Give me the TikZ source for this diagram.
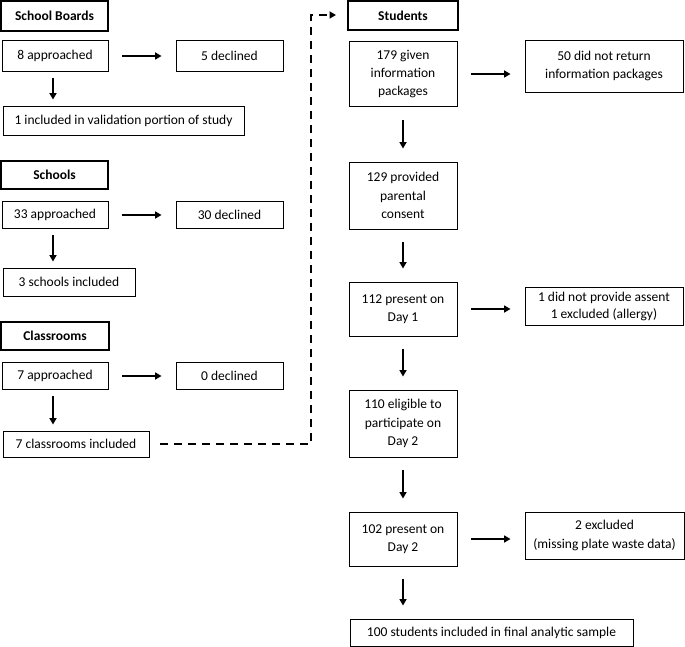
\documentclass[tikz,border=0pt]{standalone}
\usepackage{fontspec}
\setmainfont{Carlito}
\usetikzlibrary{calc}
\usetikzlibrary{arrows.meta}
\tikzset{
	box/.style={draw, line width=0.9pt, align=center, inner sep=0pt,
		font=\fontsize{13.5}{18.3}\selectfont},
	headbox/.style={box, line width=2pt, font=\fontsize{13.5}{18.3}\selectfont\bfseries},
	arr/.style={line width=1.8pt, -{Triangle[length=6.5pt,width=7pt]}},
	dashline/.style={line width=1.7pt, dash pattern=on 8pt off 6pt, -{Triangle[length=6.5pt,width=7pt]}}
}

\begin{document}
\begin{tikzpicture}[x=1pt,y=-1pt]
	\useasboundingbox (0,0) rectangle (685,647);
	% school boards
	\node [headbox, minimum width=107, minimum height=30] (hSB) at (54.5,16) {School Boards};
	\node [box, minimum width=106, minimum height=31] (sbA) at (55,56) {8 approached};
	\node [box, minimum width=107, minimum height=31] (sbD) at (229.5,56) {5 declined};
	\node [box, minimum width=241, minimum height=29] (sbI) at (123.5,120.5) {1 included in validation portion of study};
	% schools
	\node [headbox, minimum width=107, minimum height=28] (hSc) at (54.5,175) {Schools};
	\node [box, minimum width=106, minimum height=27] (scA) at (55,215) {33 approached};
	\node [box, minimum width=107, minimum height=27] (scD) at (229.5,215) {30 declined};
	\node [box, minimum width=132, minimum height=28] (scI) at (69,282) {3 schools included};
	% classrooms
	\node [headbox, minimum width=108, minimum height=28] (hCl) at (55,336) {Classrooms};
	\node [box, minimum width=106, minimum height=27] (clA) at (55,376) {7 approached};
	\node [box, minimum width=107, minimum height=27] (clD) at (229.5,376) {0 declined};
	\node [box, minimum width=146, minimum height=26] (clI) at (76,444) {7 classrooms included};
	% students
	\node [headbox, minimum width=110, minimum height=29] (hSt) at (403,15.5) {Students};
	\node [box, minimum width=108, minimum height=65] (st1) at (403,74) {179 given\\information\\packages};
	\node [box, minimum width=158, minimum height=52] (st1x) at (604,66) {50 did not return\\information packages};
	\node [box, minimum width=108, minimum height=67] (st2) at (403,195.5) {129 provided\\parental\\consent};
	\node [box, minimum width=108, minimum height=54] (st3) at (403,309) {112 present on\\Day 1};
	\node [box, minimum width=158, minimum height=38, font=\fontsize{13.5}{17}\selectfont] (st3x) at (604,306) {1 did not provide assent\\1 excluded (allergy)};
	\node [box, minimum width=108, minimum height=67] (st4) at (403,423.5) {110 eligible to\\participate on\\Day 2};
	\node [box, minimum width=108, minimum height=54] (st5) at (403,539) {102 present on\\Day 2};
	\node [box, minimum width=159, minimum height=47] (st5x) at (604.5,535.5) {2 excluded\\(missing plate waste data)};
	\node [box, minimum width=283, minimum height=27] (st6) at (491.5,632.5) {100 students included in final analytic sample};

	% left arrows
	\foreach \a/\b in {sbA/sbD,scA/scD,clA/clD}
		\draw [arr] ([xshift=14pt]\a.east) -- ([xshift=-14pt]\b.west);
	\foreach \a/\b in {sbA/sbI,scA/scI,clA/clI}
		\draw [arr, shorten <=6pt, shorten >=6pt] ([xshift=-2pt]\a.south) -- ([xshift=-2pt]\a.south |- \b.north);
	% right arrows
	\foreach \a/\b in {st1/st1x,st3/st3x,st5/st5x}
		\draw [arr] ([xshift=14pt]\a.east) -- ([xshift=-14pt]\a.east -| \b.west);
	\foreach \a/\b in {st1/st2,st2/st3,st3/st4,st4/st5,st5/st6}
		\draw [arr, shorten <=13pt, shorten >=13pt] (\a.south) -- (\a.south |- \b.north);

	% dashed link
	\coordinate (bend) at (311,15);
	\draw [dashline] ([xshift=11pt]clI.east) -| (bend) -- ([xshift=-11pt]hSt.west |- bend);
\end{tikzpicture}
\end{document}
